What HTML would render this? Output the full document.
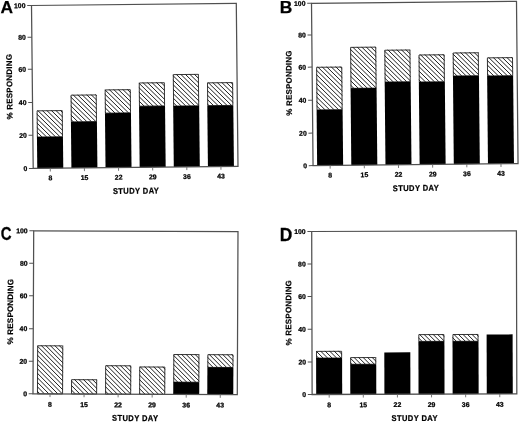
<!DOCTYPE html>
<html><head><meta charset="utf-8"><style>
html,body{margin:0;padding:0;background:#fff;}
svg{display:block;will-change:transform;}
text{font-family:"Liberation Sans", sans-serif;font-weight:bold;fill:#000;stroke:#000;stroke-width:0.25px;}
.tl{font-size:6.9px;}
.ax{font-size:8.4px;}
.yl{font-size:8.0px;stroke-width:0.2px;}
.lt{font-size:17.4px;}
</style></head><body>
<svg width="520" height="422" viewBox="0 0 520 422">
<rect width="520" height="422" fill="#fff"/>
<g transform="translate(31.5,5.5) rotate(-0.6)">
<clipPath id="cA0"><rect x="4.07" y="104.95" width="26.0" height="26.65"/></clipPath>
<path clip-path="url(#cA0)" d="M-31.95,103.95L-3.30,132.60M-27.45,103.95L1.20,132.60M-22.95,103.95L5.70,132.60M-18.45,103.95L10.20,132.60M-13.95,103.95L14.70,132.60M-9.45,103.95L19.20,132.60M-4.95,103.95L23.70,132.60M-0.45,103.95L28.20,132.60M4.05,103.95L32.70,132.60M8.55,103.95L37.20,132.60M13.05,103.95L41.70,132.60M17.55,103.95L46.20,132.60M22.05,103.95L50.70,132.60M26.55,103.95L55.20,132.60M31.05,103.95L59.70,132.60M35.55,103.95L64.20,132.60" stroke="#000" stroke-width="0.88" fill="none"/>
<rect x="4.52" y="105.40" width="25.10" height="26.20" fill="none" stroke="#222" stroke-width="0.9"/>
<rect x="4.07" y="131.60" width="26.0" height="31.40" fill="#000"/>
<clipPath id="cA1"><rect x="38.20" y="89.65" width="26.0" height="27.15"/></clipPath>
<path clip-path="url(#cA1)" d="M3.55,88.65L32.70,117.80M8.05,88.65L37.20,117.80M12.55,88.65L41.70,117.80M17.05,88.65L46.20,117.80M21.55,88.65L50.70,117.80M26.05,88.65L55.20,117.80M30.55,88.65L59.70,117.80M35.05,88.65L64.20,117.80M39.55,88.65L68.70,117.80M44.05,88.65L73.20,117.80M48.55,88.65L77.70,117.80M53.05,88.65L82.20,117.80M57.55,88.65L86.70,117.80M62.05,88.65L91.20,117.80M66.55,88.65L95.70,117.80M71.05,88.65L100.20,117.80" stroke="#000" stroke-width="0.88" fill="none"/>
<rect x="38.65" y="90.10" width="25.10" height="26.70" fill="none" stroke="#222" stroke-width="0.9"/>
<rect x="38.20" y="116.80" width="26.0" height="46.20" fill="#000"/>
<clipPath id="cA2"><rect x="72.33" y="84.75" width="26.0" height="23.65"/></clipPath>
<path clip-path="url(#cA2)" d="M39.75,83.75L65.40,109.40M44.25,83.75L69.90,109.40M48.75,83.75L74.40,109.40M53.25,83.75L78.90,109.40M57.75,83.75L83.40,109.40M62.25,83.75L87.90,109.40M66.75,83.75L92.40,109.40M71.25,83.75L96.90,109.40M75.75,83.75L101.40,109.40M80.25,83.75L105.90,109.40M84.75,83.75L110.40,109.40M89.25,83.75L114.90,109.40M93.75,83.75L119.40,109.40M98.25,83.75L123.90,109.40M102.75,83.75L128.40,109.40" stroke="#000" stroke-width="0.88" fill="none"/>
<rect x="72.78" y="85.20" width="25.10" height="23.20" fill="none" stroke="#222" stroke-width="0.9"/>
<rect x="72.33" y="108.40" width="26.0" height="54.60" fill="#000"/>
<clipPath id="cA3"><rect x="106.47" y="78.15" width="26.0" height="23.65"/></clipPath>
<path clip-path="url(#cA3)" d="M73.50,77.15L99.15,102.80M78.00,77.15L103.65,102.80M82.50,77.15L108.15,102.80M87.00,77.15L112.65,102.80M91.50,77.15L117.15,102.80M96.00,77.15L121.65,102.80M100.50,77.15L126.15,102.80M105.00,77.15L130.65,102.80M109.50,77.15L135.15,102.80M114.00,77.15L139.65,102.80M118.50,77.15L144.15,102.80M123.00,77.15L148.65,102.80M127.50,77.15L153.15,102.80M132.00,77.15L157.65,102.80M136.50,77.15L162.15,102.80" stroke="#000" stroke-width="0.88" fill="none"/>
<rect x="106.92" y="78.60" width="25.10" height="23.20" fill="none" stroke="#222" stroke-width="0.9"/>
<rect x="106.47" y="101.80" width="26.0" height="61.20" fill="#000"/>
<clipPath id="cA4"><rect x="140.60" y="70.15" width="26.0" height="31.95"/></clipPath>
<path clip-path="url(#cA4)" d="M102.30,69.15L136.25,103.10M106.80,69.15L140.75,103.10M111.30,69.15L145.25,103.10M115.80,69.15L149.75,103.10M120.30,69.15L154.25,103.10M124.80,69.15L158.75,103.10M129.30,69.15L163.25,103.10M133.80,69.15L167.75,103.10M138.30,69.15L172.25,103.10M142.80,69.15L176.75,103.10M147.30,69.15L181.25,103.10M151.80,69.15L185.75,103.10M156.30,69.15L190.25,103.10M160.80,69.15L194.75,103.10M165.30,69.15L199.25,103.10M169.80,69.15L203.75,103.10M174.30,69.15L208.25,103.10" stroke="#000" stroke-width="0.88" fill="none"/>
<rect x="141.05" y="70.60" width="25.10" height="31.50" fill="none" stroke="#222" stroke-width="0.9"/>
<rect x="140.60" y="102.10" width="26.0" height="60.90" fill="#000"/>
<clipPath id="cA5"><rect x="174.73" y="78.75" width="26.0" height="23.25"/></clipPath>
<path clip-path="url(#cA5)" d="M143.25,77.75L168.50,103.00M147.75,77.75L173.00,103.00M152.25,77.75L177.50,103.00M156.75,77.75L182.00,103.00M161.25,77.75L186.50,103.00M165.75,77.75L191.00,103.00M170.25,77.75L195.50,103.00M174.75,77.75L200.00,103.00M179.25,77.75L204.50,103.00M183.75,77.75L209.00,103.00M188.25,77.75L213.50,103.00M192.75,77.75L218.00,103.00M197.25,77.75L222.50,103.00M201.75,77.75L227.00,103.00M206.25,77.75L231.50,103.00" stroke="#000" stroke-width="0.88" fill="none"/>
<rect x="175.18" y="79.20" width="25.10" height="22.80" fill="none" stroke="#222" stroke-width="0.9"/>
<rect x="174.73" y="102.00" width="26.0" height="61.00" fill="#000"/>
<rect x="0" y="0" width="204.80" height="163.0" fill="none" stroke="#505050" stroke-width="1.25"/>
<line x1="-4.3" y1="0.0" x2="0" y2="0.0" stroke="#505050" stroke-width="1"/>
<text x="-6" y="2.45" text-anchor="end" class="tl">100</text>
<line x1="-4.3" y1="31.7" x2="0" y2="31.7" stroke="#505050" stroke-width="1"/>
<text x="-6" y="34.15" text-anchor="end" class="tl">80</text>
<line x1="-4.3" y1="63.8" x2="0" y2="63.8" stroke="#505050" stroke-width="1"/>
<text x="-6" y="66.25" text-anchor="end" class="tl">60</text>
<line x1="-4.3" y1="96.9" x2="0" y2="96.9" stroke="#505050" stroke-width="1"/>
<text x="-6" y="99.35" text-anchor="end" class="tl">40</text>
<line x1="-4.3" y1="129.8" x2="0" y2="129.8" stroke="#505050" stroke-width="1"/>
<text x="-6" y="132.25" text-anchor="end" class="tl">20</text>
<line x1="-4.3" y1="163.0" x2="0" y2="163.0" stroke="#505050" stroke-width="1"/>
<text x="-6" y="165.45" text-anchor="end" class="tl">0</text>
<line x1="17.07" y1="163.0" x2="17.07" y2="166.2" stroke="#6a6a6a" stroke-width="0.9"/>
<text x="17.07" y="175.00" text-anchor="middle" class="tl">8</text>
<line x1="51.20" y1="163.0" x2="51.20" y2="166.2" stroke="#6a6a6a" stroke-width="0.9"/>
<text x="51.20" y="175.00" text-anchor="middle" class="tl">15</text>
<line x1="85.33" y1="163.0" x2="85.33" y2="166.2" stroke="#6a6a6a" stroke-width="0.9"/>
<text x="85.33" y="175.00" text-anchor="middle" class="tl">22</text>
<line x1="119.47" y1="163.0" x2="119.47" y2="166.2" stroke="#6a6a6a" stroke-width="0.9"/>
<text x="119.47" y="175.00" text-anchor="middle" class="tl">29</text>
<line x1="153.60" y1="163.0" x2="153.60" y2="166.2" stroke="#6a6a6a" stroke-width="0.9"/>
<text x="153.60" y="175.00" text-anchor="middle" class="tl">36</text>
<line x1="187.73" y1="163.0" x2="187.73" y2="166.2" stroke="#6a6a6a" stroke-width="0.9"/>
<text x="187.73" y="175.00" text-anchor="middle" class="tl">43</text>
<text transform="translate(102.40,189.30) scale(0.9,1)" x="0" y="0" text-anchor="middle" class="ax" textLength="51.11" lengthAdjust="spacing">STUDY DAY</text>
<text transform="translate(-20.20,81.06) rotate(-90) scale(1.0,1)" text-anchor="middle" class="yl" textLength="65.30" lengthAdjust="spacing">% RESPONDING</text>
</g>
<text transform="translate(0.47,13.00) scale(1.0,1.0)" class="lt">A</text>
<g transform="translate(311.5,3.3) rotate(-0.55)">
<clipPath id="cB0"><rect x="4.08" y="63.60" width="26.0" height="43.05"/></clipPath>
<path clip-path="url(#cB0)" d="M-45.00,62.60L0.05,107.65M-40.50,62.60L4.55,107.65M-36.00,62.60L9.05,107.65M-31.50,62.60L13.55,107.65M-27.00,62.60L18.05,107.65M-22.50,62.60L22.55,107.65M-18.00,62.60L27.05,107.65M-13.50,62.60L31.55,107.65M-9.00,62.60L36.05,107.65M-4.50,62.60L40.55,107.65M0.00,62.60L45.05,107.65M4.50,62.60L49.55,107.65M9.00,62.60L54.05,107.65M13.50,62.60L58.55,107.65M18.00,62.60L63.05,107.65M22.50,62.60L67.55,107.65M27.00,62.60L72.05,107.65M31.50,62.60L76.55,107.65M36.00,62.60L81.05,107.65" stroke="#000" stroke-width="0.88" fill="none"/>
<rect x="4.53" y="64.05" width="25.10" height="42.60" fill="none" stroke="#222" stroke-width="0.9"/>
<rect x="4.08" y="106.65" width="26.0" height="55.65" fill="#000"/>
<clipPath id="cB1"><rect x="38.25" y="43.99" width="26.0" height="41.45"/></clipPath>
<path clip-path="url(#cB1)" d="M-9.91,42.99L33.54,86.44M-5.41,42.99L38.04,86.44M-0.91,42.99L42.54,86.44M3.59,42.99L47.04,86.44M8.09,42.99L51.54,86.44M12.59,42.99L56.04,86.44M17.09,42.99L60.54,86.44M21.59,42.99L65.04,86.44M26.09,42.99L69.54,86.44M30.59,42.99L74.04,86.44M35.09,42.99L78.54,86.44M39.59,42.99L83.04,86.44M44.09,42.99L87.54,86.44M48.59,42.99L92.04,86.44M53.09,42.99L96.54,86.44M57.59,42.99L101.04,86.44M62.09,42.99L105.54,86.44M66.59,42.99L110.04,86.44M71.09,42.99L114.54,86.44" stroke="#000" stroke-width="0.88" fill="none"/>
<rect x="38.70" y="44.44" width="25.10" height="41.00" fill="none" stroke="#222" stroke-width="0.9"/>
<rect x="38.25" y="85.44" width="26.0" height="76.86" fill="#000"/>
<clipPath id="cB2"><rect x="72.42" y="47.19" width="26.0" height="32.25"/></clipPath>
<path clip-path="url(#cB2)" d="M34.29,46.19L68.54,80.44M38.79,46.19L73.04,80.44M43.29,46.19L77.54,80.44M47.79,46.19L82.04,80.44M52.29,46.19L86.54,80.44M56.79,46.19L91.04,80.44M61.29,46.19L95.54,80.44M65.79,46.19L100.04,80.44M70.29,46.19L104.54,80.44M74.79,46.19L109.04,80.44M79.29,46.19L113.54,80.44M83.79,46.19L118.04,80.44M88.29,46.19L122.54,80.44M92.79,46.19L127.04,80.44M97.29,46.19L131.54,80.44M101.79,46.19L136.04,80.44M106.29,46.19L140.54,80.44" stroke="#000" stroke-width="0.88" fill="none"/>
<rect x="72.87" y="47.64" width="25.10" height="31.80" fill="none" stroke="#222" stroke-width="0.9"/>
<rect x="72.42" y="79.44" width="26.0" height="82.86" fill="#000"/>
<clipPath id="cB3"><rect x="106.58" y="52.29" width="26.0" height="27.45"/></clipPath>
<path clip-path="url(#cB3)" d="M71.29,51.29L100.74,80.74M75.79,51.29L105.24,80.74M80.29,51.29L109.74,80.74M84.79,51.29L114.24,80.74M89.29,51.29L118.74,80.74M93.79,51.29L123.24,80.74M98.29,51.29L127.74,80.74M102.79,51.29L132.24,80.74M107.29,51.29L136.74,80.74M111.79,51.29L141.24,80.74M116.29,51.29L145.74,80.74M120.79,51.29L150.24,80.74M125.29,51.29L154.74,80.74M129.79,51.29L159.24,80.74M134.29,51.29L163.74,80.74M138.79,51.29L168.24,80.74" stroke="#000" stroke-width="0.88" fill="none"/>
<rect x="107.03" y="52.74" width="25.10" height="27.00" fill="none" stroke="#222" stroke-width="0.9"/>
<rect x="106.58" y="79.74" width="26.0" height="82.56" fill="#000"/>
<clipPath id="cB4"><rect x="140.75" y="50.60" width="26.0" height="23.45"/></clipPath>
<path clip-path="url(#cB4)" d="M111.50,49.60L136.95,75.05M116.00,49.60L141.45,75.05M120.50,49.60L145.95,75.05M125.00,49.60L150.45,75.05M129.50,49.60L154.95,75.05M134.00,49.60L159.45,75.05M138.50,49.60L163.95,75.05M143.00,49.60L168.45,75.05M147.50,49.60L172.95,75.05M152.00,49.60L177.45,75.05M156.50,49.60L181.95,75.05M161.00,49.60L186.45,75.05M165.50,49.60L190.95,75.05M170.00,49.60L195.45,75.05M174.50,49.60L199.95,75.05" stroke="#000" stroke-width="0.88" fill="none"/>
<rect x="141.20" y="51.05" width="25.10" height="23.00" fill="none" stroke="#222" stroke-width="0.9"/>
<rect x="140.75" y="74.05" width="26.0" height="88.25" fill="#000"/>
<clipPath id="cB5"><rect x="174.92" y="55.80" width="26.0" height="18.55"/></clipPath>
<path clip-path="url(#cB5)" d="M148.60,54.80L169.15,75.35M153.10,54.80L173.65,75.35M157.60,54.80L178.15,75.35M162.10,54.80L182.65,75.35M166.60,54.80L187.15,75.35M171.10,54.80L191.65,75.35M175.60,54.80L196.15,75.35M180.10,54.80L200.65,75.35M184.60,54.80L205.15,75.35M189.10,54.80L209.65,75.35M193.60,54.80L214.15,75.35M198.10,54.80L218.65,75.35M202.60,54.80L223.15,75.35M207.10,54.80L227.65,75.35" stroke="#000" stroke-width="0.88" fill="none"/>
<rect x="175.37" y="56.25" width="25.10" height="18.10" fill="none" stroke="#222" stroke-width="0.9"/>
<rect x="174.92" y="74.35" width="26.0" height="87.95" fill="#000"/>
<rect x="0" y="0" width="205.00" height="162.3" fill="none" stroke="#505050" stroke-width="1.25"/>
<line x1="-4.3" y1="0.0" x2="0" y2="0.0" stroke="#505050" stroke-width="1"/>
<text x="-6" y="2.45" text-anchor="end" class="tl">100</text>
<line x1="-4.3" y1="31.7" x2="0" y2="31.7" stroke="#505050" stroke-width="1"/>
<text x="-6" y="34.15" text-anchor="end" class="tl">80</text>
<line x1="-4.3" y1="63.8" x2="0" y2="63.8" stroke="#505050" stroke-width="1"/>
<text x="-6" y="66.25" text-anchor="end" class="tl">60</text>
<line x1="-4.3" y1="96.9" x2="0" y2="96.9" stroke="#505050" stroke-width="1"/>
<text x="-6" y="99.35" text-anchor="end" class="tl">40</text>
<line x1="-4.3" y1="129.8" x2="0" y2="129.8" stroke="#505050" stroke-width="1"/>
<text x="-6" y="132.25" text-anchor="end" class="tl">20</text>
<line x1="-4.3" y1="162.3" x2="0" y2="162.3" stroke="#505050" stroke-width="1"/>
<text x="-6" y="164.75" text-anchor="end" class="tl">0</text>
<line x1="17.08" y1="162.3" x2="17.08" y2="165.5" stroke="#6a6a6a" stroke-width="0.9"/>
<text x="17.08" y="174.30" text-anchor="middle" class="tl">8</text>
<line x1="51.25" y1="162.3" x2="51.25" y2="165.5" stroke="#6a6a6a" stroke-width="0.9"/>
<text x="51.25" y="174.30" text-anchor="middle" class="tl">15</text>
<line x1="85.42" y1="162.3" x2="85.42" y2="165.5" stroke="#6a6a6a" stroke-width="0.9"/>
<text x="85.42" y="174.30" text-anchor="middle" class="tl">22</text>
<line x1="119.58" y1="162.3" x2="119.58" y2="165.5" stroke="#6a6a6a" stroke-width="0.9"/>
<text x="119.58" y="174.30" text-anchor="middle" class="tl">29</text>
<line x1="153.75" y1="162.3" x2="153.75" y2="165.5" stroke="#6a6a6a" stroke-width="0.9"/>
<text x="153.75" y="174.30" text-anchor="middle" class="tl">36</text>
<line x1="187.92" y1="162.3" x2="187.92" y2="165.5" stroke="#6a6a6a" stroke-width="0.9"/>
<text x="187.92" y="174.30" text-anchor="middle" class="tl">43</text>
<text transform="translate(102.50,188.60) scale(0.9,1)" x="0" y="0" text-anchor="middle" class="ax" textLength="51.11" lengthAdjust="spacing">STUDY DAY</text>
<text transform="translate(-20.60,79.65) rotate(-90) scale(1.0,1)" text-anchor="middle" class="yl" textLength="65.30" lengthAdjust="spacing">% RESPONDING</text>
</g>
<text transform="translate(279.70,13.00) scale(1.0,1.0)" class="lt">B</text>
<g transform="translate(33.7,230.8) rotate(0.25)">
<clipPath id="cC0"><rect x="4.03" y="114.49" width="26.0" height="48.51"/></clipPath>
<path clip-path="url(#cC0)" d="M-51.61,113.49L-1.10,164.00M-47.11,113.49L3.40,164.00M-42.61,113.49L7.90,164.00M-38.11,113.49L12.40,164.00M-33.61,113.49L16.90,164.00M-29.11,113.49L21.40,164.00M-24.61,113.49L25.90,164.00M-20.11,113.49L30.40,164.00M-15.61,113.49L34.90,164.00M-11.11,113.49L39.40,164.00M-6.61,113.49L43.90,164.00M-2.11,113.49L48.40,164.00M2.39,113.49L52.90,164.00M6.89,113.49L57.40,164.00M11.39,113.49L61.90,164.00M15.89,113.49L66.40,164.00M20.39,113.49L70.90,164.00M24.89,113.49L75.40,164.00M29.39,113.49L79.90,164.00M33.89,113.49L84.40,164.00" stroke="#000" stroke-width="0.88" fill="none"/>
<rect x="4.48" y="114.94" width="25.10" height="48.06" fill="none" stroke="#222" stroke-width="0.9"/>
<clipPath id="cC1"><rect x="38.08" y="148.25" width="26.0" height="14.75"/></clipPath>
<path clip-path="url(#cC1)" d="M17.65,147.25L34.40,164.00M22.15,147.25L38.90,164.00M26.65,147.25L43.40,164.00M31.15,147.25L47.90,164.00M35.65,147.25L52.40,164.00M40.15,147.25L56.90,164.00M44.65,147.25L61.40,164.00M49.15,147.25L65.90,164.00M53.65,147.25L70.40,164.00M58.15,147.25L74.90,164.00M62.65,147.25L79.40,164.00M67.15,147.25L83.90,164.00M71.65,147.25L88.40,164.00" stroke="#000" stroke-width="0.88" fill="none"/>
<rect x="38.53" y="148.70" width="25.10" height="14.30" fill="none" stroke="#222" stroke-width="0.9"/>
<clipPath id="cC2"><rect x="72.13" y="134.15" width="26.0" height="28.85"/></clipPath>
<path clip-path="url(#cC2)" d="M36.55,133.15L67.40,164.00M41.05,133.15L71.90,164.00M45.55,133.15L76.40,164.00M50.05,133.15L80.90,164.00M54.55,133.15L85.40,164.00M59.05,133.15L89.90,164.00M63.55,133.15L94.40,164.00M68.05,133.15L98.90,164.00M72.55,133.15L103.40,164.00M77.05,133.15L107.90,164.00M81.55,133.15L112.40,164.00M86.05,133.15L116.90,164.00M90.55,133.15L121.40,164.00M95.05,133.15L125.90,164.00M99.55,133.15L130.40,164.00M104.05,133.15L134.90,164.00" stroke="#000" stroke-width="0.88" fill="none"/>
<rect x="72.58" y="134.60" width="25.10" height="28.40" fill="none" stroke="#222" stroke-width="0.9"/>
<clipPath id="cC3"><rect x="106.18" y="135.25" width="26.0" height="27.75"/></clipPath>
<path clip-path="url(#cC3)" d="M69.85,134.25L99.60,164.00M74.35,134.25L104.10,164.00M78.85,134.25L108.60,164.00M83.35,134.25L113.10,164.00M87.85,134.25L117.60,164.00M92.35,134.25L122.10,164.00M96.85,134.25L126.60,164.00M101.35,134.25L131.10,164.00M105.85,134.25L135.60,164.00M110.35,134.25L140.10,164.00M114.85,134.25L144.60,164.00M119.35,134.25L149.10,164.00M123.85,134.25L153.60,164.00M128.35,134.25L158.10,164.00M132.85,134.25L162.60,164.00M137.35,134.25L167.10,164.00" stroke="#000" stroke-width="0.88" fill="none"/>
<rect x="106.63" y="135.70" width="25.10" height="27.30" fill="none" stroke="#222" stroke-width="0.9"/>
<clipPath id="cC4"><rect x="140.23" y="122.65" width="26.0" height="28.05"/></clipPath>
<path clip-path="url(#cC4)" d="M106.65,121.65L136.70,151.70M111.15,121.65L141.20,151.70M115.65,121.65L145.70,151.70M120.15,121.65L150.20,151.70M124.65,121.65L154.70,151.70M129.15,121.65L159.20,151.70M133.65,121.65L163.70,151.70M138.15,121.65L168.20,151.70M142.65,121.65L172.70,151.70M147.15,121.65L177.20,151.70M151.65,121.65L181.70,151.70M156.15,121.65L186.20,151.70M160.65,121.65L190.70,151.70M165.15,121.65L195.20,151.70M169.65,121.65L199.70,151.70M174.15,121.65L204.20,151.70" stroke="#000" stroke-width="0.88" fill="none"/>
<rect x="140.68" y="123.10" width="25.10" height="27.60" fill="none" stroke="#222" stroke-width="0.9"/>
<rect x="140.23" y="150.70" width="26.0" height="12.30" fill="#000"/>
<clipPath id="cC5"><rect x="174.28" y="122.65" width="26.0" height="13.15"/></clipPath>
<path clip-path="url(#cC5)" d="M152.35,121.65L167.50,136.80M156.85,121.65L172.00,136.80M161.35,121.65L176.50,136.80M165.85,121.65L181.00,136.80M170.35,121.65L185.50,136.80M174.85,121.65L190.00,136.80M179.35,121.65L194.50,136.80M183.85,121.65L199.00,136.80M188.35,121.65L203.50,136.80M192.85,121.65L208.00,136.80M197.35,121.65L212.50,136.80M201.85,121.65L217.00,136.80M206.35,121.65L221.50,136.80" stroke="#000" stroke-width="0.88" fill="none"/>
<rect x="174.73" y="123.10" width="25.10" height="12.70" fill="none" stroke="#222" stroke-width="0.9"/>
<rect x="174.28" y="135.80" width="26.0" height="27.20" fill="#000"/>
<rect x="0" y="0" width="204.30" height="163.0" fill="none" stroke="#505050" stroke-width="1.25"/>
<line x1="-4.3" y1="0.0" x2="0" y2="0.0" stroke="#505050" stroke-width="1"/>
<text x="-6" y="2.45" text-anchor="end" class="tl">100</text>
<line x1="-4.3" y1="32.45" x2="0" y2="32.45" stroke="#505050" stroke-width="1"/>
<text x="-6" y="34.90" text-anchor="end" class="tl">80</text>
<line x1="-4.3" y1="65.0" x2="0" y2="65.0" stroke="#505050" stroke-width="1"/>
<text x="-6" y="67.45" text-anchor="end" class="tl">60</text>
<line x1="-4.3" y1="97.85" x2="0" y2="97.85" stroke="#505050" stroke-width="1"/>
<text x="-6" y="100.30" text-anchor="end" class="tl">40</text>
<line x1="-4.3" y1="130.5" x2="0" y2="130.5" stroke="#505050" stroke-width="1"/>
<text x="-6" y="132.95" text-anchor="end" class="tl">20</text>
<line x1="-4.3" y1="163.0" x2="0" y2="163.0" stroke="#505050" stroke-width="1"/>
<text x="-6" y="165.45" text-anchor="end" class="tl">0</text>
<line x1="17.03" y1="163.0" x2="17.03" y2="166.2" stroke="#6a6a6a" stroke-width="0.9"/>
<text x="17.03" y="176.00" text-anchor="middle" class="tl">8</text>
<line x1="51.08" y1="163.0" x2="51.08" y2="166.2" stroke="#6a6a6a" stroke-width="0.9"/>
<text x="51.08" y="176.00" text-anchor="middle" class="tl">15</text>
<line x1="85.13" y1="163.0" x2="85.13" y2="166.2" stroke="#6a6a6a" stroke-width="0.9"/>
<text x="85.13" y="176.00" text-anchor="middle" class="tl">22</text>
<line x1="119.18" y1="163.0" x2="119.18" y2="166.2" stroke="#6a6a6a" stroke-width="0.9"/>
<text x="119.18" y="176.00" text-anchor="middle" class="tl">29</text>
<line x1="153.23" y1="163.0" x2="153.23" y2="166.2" stroke="#6a6a6a" stroke-width="0.9"/>
<text x="153.23" y="176.00" text-anchor="middle" class="tl">36</text>
<line x1="187.28" y1="163.0" x2="187.28" y2="166.2" stroke="#6a6a6a" stroke-width="0.9"/>
<text x="187.28" y="176.00" text-anchor="middle" class="tl">43</text>
<text transform="translate(102.15,189.70) scale(0.9,1)" x="0" y="0" text-anchor="middle" class="ax" textLength="51.11" lengthAdjust="spacing">STUDY DAY</text>
<text transform="translate(-20.30,81.03) rotate(-90) scale(1.0,1)" text-anchor="middle" class="yl" textLength="65.30" lengthAdjust="spacing">% RESPONDING</text>
</g>
<text transform="translate(0.70,239.50) scale(0.86,1.05)" class="lt">C</text>
<g transform="translate(311.7,231.5) rotate(-0.15)">
<clipPath id="cD0"><rect x="4.06" y="119.45" width="26.0" height="7.15"/></clipPath>
<path clip-path="url(#cD0)" d="M-10.55,118.45L-1.40,127.60M-6.05,118.45L3.10,127.60M-1.55,118.45L7.60,127.60M2.95,118.45L12.10,127.60M7.45,118.45L16.60,127.60M11.95,118.45L21.10,127.60M16.45,118.45L25.60,127.60M20.95,118.45L30.10,127.60M25.45,118.45L34.60,127.60M29.95,118.45L39.10,127.60M34.45,118.45L43.60,127.60" stroke="#000" stroke-width="0.88" fill="none"/>
<rect x="4.51" y="119.90" width="25.10" height="6.70" fill="none" stroke="#222" stroke-width="0.9"/>
<rect x="4.06" y="126.60" width="26.0" height="36.40" fill="#000"/>
<clipPath id="cD1"><rect x="38.17" y="125.75" width="26.0" height="7.15"/></clipPath>
<path clip-path="url(#cD1)" d="M22.75,124.75L31.90,133.90M27.25,124.75L36.40,133.90M31.75,124.75L40.90,133.90M36.25,124.75L45.40,133.90M40.75,124.75L49.90,133.90M45.25,124.75L54.40,133.90M49.75,124.75L58.90,133.90M54.25,124.75L63.40,133.90M58.75,124.75L67.90,133.90M63.25,124.75L72.40,133.90M67.75,124.75L76.90,133.90" stroke="#000" stroke-width="0.88" fill="none"/>
<rect x="38.62" y="126.20" width="25.10" height="6.70" fill="none" stroke="#222" stroke-width="0.9"/>
<rect x="38.17" y="132.90" width="26.0" height="30.10" fill="#000"/>
<rect x="72.29" y="121.10" width="26.0" height="41.90" fill="#000"/>
<clipPath id="cD3"><rect x="106.41" y="102.95" width="26.0" height="7.25"/></clipPath>
<path clip-path="url(#cD3)" d="M92.85,101.95L102.10,111.20M97.35,101.95L106.60,111.20M101.85,101.95L111.10,111.20M106.35,101.95L115.60,111.20M110.85,101.95L120.10,111.20M115.35,101.95L124.60,111.20M119.85,101.95L129.10,111.20M124.35,101.95L133.60,111.20M128.85,101.95L138.10,111.20M133.35,101.95L142.60,111.20M137.85,101.95L147.10,111.20" stroke="#000" stroke-width="0.88" fill="none"/>
<rect x="106.86" y="103.40" width="25.10" height="6.80" fill="none" stroke="#222" stroke-width="0.9"/>
<rect x="106.41" y="110.20" width="26.0" height="52.80" fill="#000"/>
<clipPath id="cD4"><rect x="140.53" y="102.95" width="26.0" height="7.25"/></clipPath>
<path clip-path="url(#cD4)" d="M127.15,101.95L136.40,111.20M131.65,101.95L140.90,111.20M136.15,101.95L145.40,111.20M140.65,101.95L149.90,111.20M145.15,101.95L154.40,111.20M149.65,101.95L158.90,111.20M154.15,101.95L163.40,111.20M158.65,101.95L167.90,111.20M163.15,101.95L172.40,111.20M167.65,101.95L176.90,111.20M172.15,101.95L181.40,111.20" stroke="#000" stroke-width="0.88" fill="none"/>
<rect x="140.97" y="103.40" width="25.10" height="6.80" fill="none" stroke="#222" stroke-width="0.9"/>
<rect x="140.53" y="110.20" width="26.0" height="52.80" fill="#000"/>
<rect x="174.64" y="103.40" width="26.0" height="59.60" fill="#000"/>
<rect x="0" y="0" width="204.70" height="163.0" fill="none" stroke="#505050" stroke-width="1.25"/>
<line x1="-4.3" y1="0.0" x2="0" y2="0.0" stroke="#505050" stroke-width="1"/>
<text x="-6" y="2.45" text-anchor="end" class="tl">100</text>
<line x1="-4.3" y1="32.45" x2="0" y2="32.45" stroke="#505050" stroke-width="1"/>
<text x="-6" y="34.90" text-anchor="end" class="tl">80</text>
<line x1="-4.3" y1="65.0" x2="0" y2="65.0" stroke="#505050" stroke-width="1"/>
<text x="-6" y="67.45" text-anchor="end" class="tl">60</text>
<line x1="-4.3" y1="97.85" x2="0" y2="97.85" stroke="#505050" stroke-width="1"/>
<text x="-6" y="100.30" text-anchor="end" class="tl">40</text>
<line x1="-4.3" y1="130.5" x2="0" y2="130.5" stroke="#505050" stroke-width="1"/>
<text x="-6" y="132.95" text-anchor="end" class="tl">20</text>
<line x1="-4.3" y1="163.0" x2="0" y2="163.0" stroke="#505050" stroke-width="1"/>
<text x="-6" y="165.45" text-anchor="end" class="tl">0</text>
<line x1="17.06" y1="163.0" x2="17.06" y2="166.2" stroke="#6a6a6a" stroke-width="0.9"/>
<text x="17.06" y="175.80" text-anchor="middle" class="tl">8</text>
<line x1="51.17" y1="163.0" x2="51.17" y2="166.2" stroke="#6a6a6a" stroke-width="0.9"/>
<text x="51.17" y="175.80" text-anchor="middle" class="tl">15</text>
<line x1="85.29" y1="163.0" x2="85.29" y2="166.2" stroke="#6a6a6a" stroke-width="0.9"/>
<text x="85.29" y="175.80" text-anchor="middle" class="tl">22</text>
<line x1="119.41" y1="163.0" x2="119.41" y2="166.2" stroke="#6a6a6a" stroke-width="0.9"/>
<text x="119.41" y="175.80" text-anchor="middle" class="tl">29</text>
<line x1="153.53" y1="163.0" x2="153.53" y2="166.2" stroke="#6a6a6a" stroke-width="0.9"/>
<text x="153.53" y="175.80" text-anchor="middle" class="tl">36</text>
<line x1="187.64" y1="163.0" x2="187.64" y2="166.2" stroke="#6a6a6a" stroke-width="0.9"/>
<text x="187.64" y="175.80" text-anchor="middle" class="tl">43</text>
<text transform="translate(102.35,189.70) scale(0.9,1)" x="0" y="0" text-anchor="middle" class="ax" textLength="51.11" lengthAdjust="spacing">STUDY DAY</text>
<text transform="translate(-20.60,81.24) rotate(-90) scale(1.0,1)" text-anchor="middle" class="yl" textLength="65.30" lengthAdjust="spacing">% RESPONDING</text>
</g>
<text transform="translate(279.70,241.00) scale(1.0,1.07)" class="lt">D</text>
</svg>
</body></html>
